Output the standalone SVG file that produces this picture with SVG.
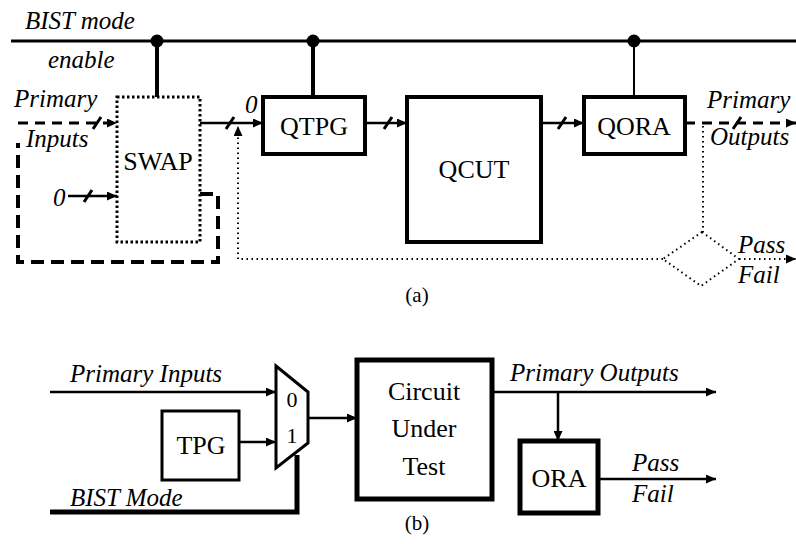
<svg xmlns="http://www.w3.org/2000/svg" width="796" height="544" viewBox="0 0 796 544" font-family="Liberation Serif, Times New Roman, serif">
<defs>
<marker id="arr" markerUnits="userSpaceOnUse" markerWidth="11" markerHeight="9" refX="10" refY="4.5" orient="auto">
<path d="M0,0 L10,4.5 L0,9 z" fill="#000"/>
</marker>
</defs>
<rect width="796" height="544" fill="#fff"/>
<g id="labels-a" font-family="Liberation Serif, Times New Roman, serif" font-style="italic" font-size="25">
<text x="25" y="29">BIST mode</text>
<text x="48" y="68">enable</text>
<text x="14" y="107">Primary</text>
<text x="26" y="147">Inputs</text>
<text x="53" y="206">0</text>
<text x="245" y="113">0</text>
<text x="707" y="108">Primary</text>
<text x="710" y="145">Outputs</text>
<text x="738" y="253">Pass</text>
<text x="738" y="283">Fail</text>
</g>
<text x="417" y="302" font-family="Liberation Serif, Times New Roman, serif" font-size="21" text-anchor="middle">(a)</text>
<g id="connectors-a" fill="none" stroke="#000">
<line x1="11" y1="41" x2="796" y2="41" stroke-width="3"/>
<line x1="157" y1="41" x2="157" y2="97" stroke-width="4"/>
<line x1="313" y1="41" x2="313" y2="97" stroke-width="4"/>
<line x1="634" y1="41" x2="634" y2="97" stroke-width="2"/>
<g fill="#000" stroke="none">
<circle cx="157" cy="41" r="6.5"/>
<circle cx="313" cy="41" r="6.5"/>
<circle cx="634" cy="41" r="6.5"/>
</g>
<g stroke-width="3" stroke-dasharray="10 7">
<line x1="18" y1="123" x2="117" y2="123" marker-end="url(#arr)"/>
<line x1="685" y1="123" x2="796" y2="123" marker-end="url(#arr)"/>
</g>
<path d="M200,194 H218 V262 H18 V143" stroke-width="4" stroke-dasharray="13 7"/>
<g stroke-width="2.5">
<line x1="68" y1="196" x2="117" y2="196" marker-end="url(#arr)"/>
<line x1="200" y1="123" x2="263" y2="123" marker-end="url(#arr)"/>
<line x1="365" y1="123" x2="407" y2="123" marker-end="url(#arr)"/>
<line x1="541" y1="123" x2="584" y2="123" marker-end="url(#arr)"/>
</g>
<g stroke-width="3">
<line x1="93" y1="129" x2="101" y2="117"/>
<line x1="84" y1="202" x2="92" y2="190"/>
<line x1="226" y1="129" x2="234" y2="117"/>
<line x1="384" y1="129" x2="392" y2="117"/>
<line x1="558" y1="129" x2="566" y2="117"/>
<line x1="733" y1="129" x2="741" y2="117"/>
</g>
<g stroke-width="2" stroke-dasharray="1.5 3.5">
<line x1="703" y1="126" x2="703" y2="232"/>
<line x1="739" y1="259" x2="796" y2="259" marker-end="url(#arr)"/>
<path d="M663,259 H238 V126" marker-end="url(#arr)"/>
</g>
</g>
<g id="swap">
<rect x="117" y="97" width="83" height="145" fill="none" stroke="#000" stroke-width="3" stroke-dasharray="2.5 2.5"/>
<text x="158" y="170" font-family="Liberation Serif, Times New Roman, serif" font-size="26" text-anchor="middle">SWAP</text>
</g>
<g id="qtpg">
<rect x="263" y="97" width="102" height="57" fill="#fff" stroke="#000" stroke-width="4"/>
<text x="314" y="135" font-family="Liberation Serif, Times New Roman, serif" font-size="26" text-anchor="middle">QTPG</text>
</g>
<g id="qcut">
<rect x="407" y="97" width="134" height="145" fill="#fff" stroke="#000" stroke-width="4"/>
<text x="474" y="178" font-family="Liberation Serif, Times New Roman, serif" font-size="26" text-anchor="middle">QCUT</text>
</g>
<g id="qora">
<rect x="584" y="97" width="101" height="57" fill="#fff" stroke="#000" stroke-width="4"/>
<text x="634" y="135" font-family="Liberation Serif, Times New Roman, serif" font-size="26" text-anchor="middle">QORA</text>
</g>
<g id="compare">
<polygon points="702,232 739,259 701,286 663,259" fill="none" stroke="#000" stroke-width="2" stroke-dasharray="1.5 3.5"/>
</g>
<g id="connectors-b" fill="none" stroke="#000" stroke-width="2.5">
<line x1="50" y1="392" x2="276" y2="392" marker-end="url(#arr)"/>
<line x1="239" y1="442" x2="276" y2="442" marker-end="url(#arr)"/>
<line x1="308" y1="418" x2="357" y2="418" marker-end="url(#arr)"/>
<path d="M50,512 H297 V455" stroke-width="5"/>
<line x1="492" y1="392" x2="716" y2="392" marker-end="url(#arr)"/>
<line x1="558" y1="392" x2="558" y2="441" marker-end="url(#arr)"/>
<line x1="598" y1="479" x2="716" y2="479" marker-end="url(#arr)"/>
</g>
<g id="mux">
<polygon points="276,366 308,392 308,443 276,468" fill="#fff" stroke="#000" stroke-width="3"/>
<text x="292" y="407" font-family="Liberation Serif, Times New Roman, serif" font-size="22" text-anchor="middle">0</text>
<text x="292" y="443" font-family="Liberation Serif, Times New Roman, serif" font-size="22" text-anchor="middle">1</text>
</g>
<g id="tpg">
<rect x="162" y="411" width="77" height="69" fill="#fff" stroke="#000" stroke-width="3"/>
<text x="201" y="454" font-family="Liberation Serif, Times New Roman, serif" font-size="26" text-anchor="middle">TPG</text>
</g>
<g id="cut">
<rect x="357" y="360" width="135" height="139" fill="#fff" stroke="#000" stroke-width="5"/>
<text x="424" y="400" font-family="Liberation Serif, Times New Roman, serif" font-size="26" text-anchor="middle">Circuit</text>
<text x="424" y="437" font-family="Liberation Serif, Times New Roman, serif" font-size="26" text-anchor="middle">Under</text>
<text x="424" y="475" font-family="Liberation Serif, Times New Roman, serif" font-size="26" text-anchor="middle">Test</text>
</g>
<g id="ora">
<rect x="520" y="441" width="78" height="72" fill="#fff" stroke="#000" stroke-width="5"/>
<text x="559" y="487" font-family="Liberation Serif, Times New Roman, serif" font-size="26" text-anchor="middle">ORA</text>
</g>
<g id="labels-b" font-family="Liberation Serif, Times New Roman, serif" font-style="italic" font-size="25">
<text x="70" y="382">Primary Inputs</text>
<text x="70" y="506">BIST Mode</text>
<text x="510" y="381">Primary Outputs</text>
<text x="632" y="471">Pass</text>
<text x="632" y="502">Fail</text>
</g>
<text x="417" y="530" font-family="Liberation Serif, Times New Roman, serif" font-size="21" text-anchor="middle">(b)</text>
</svg>
